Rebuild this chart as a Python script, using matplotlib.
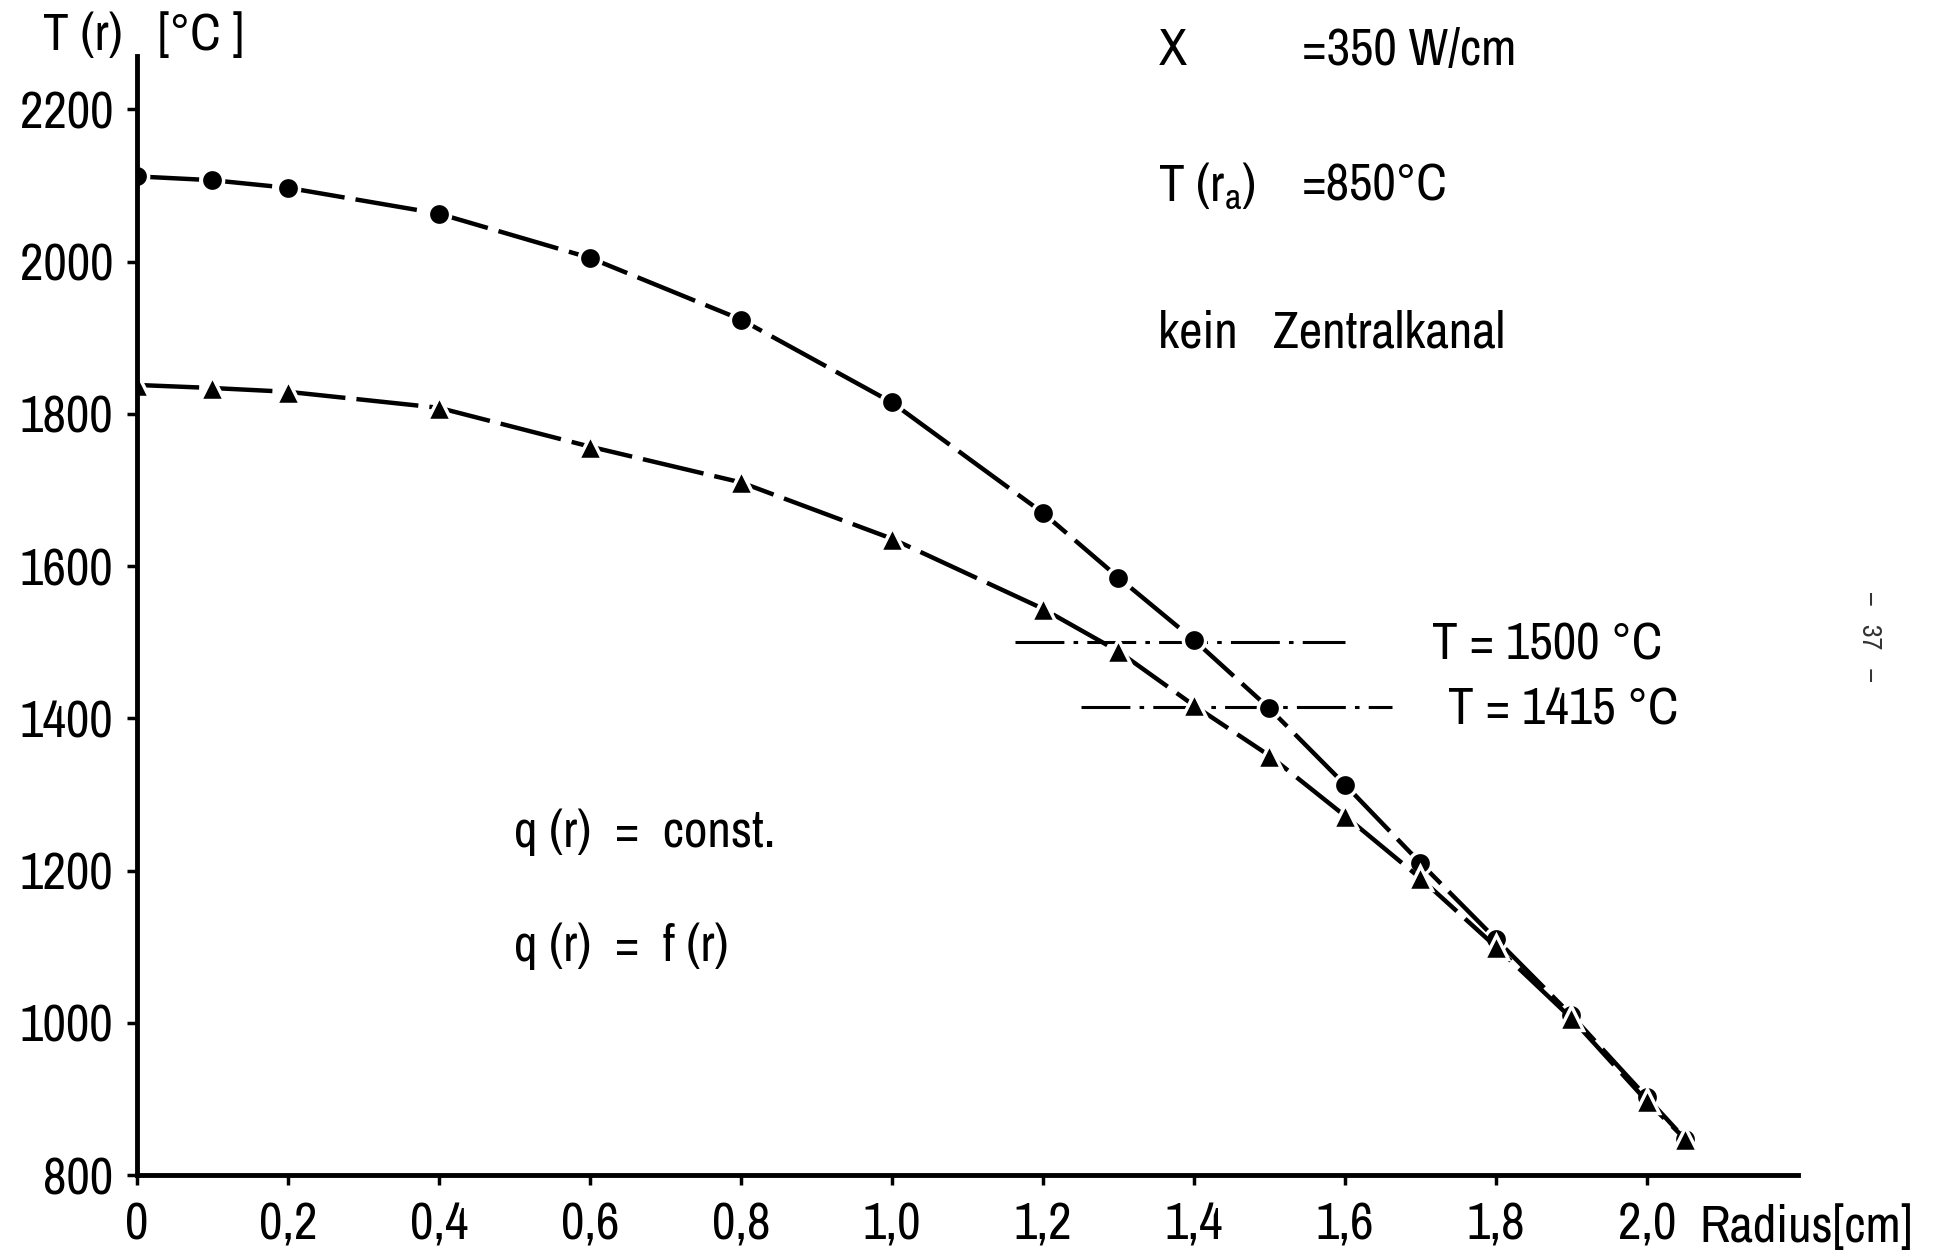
import numpy as np
import matplotlib
matplotlib.use("Agg")
import matplotlib.pyplot as plt
from matplotlib import font_manager

# Schrift: schmale Grotesk, falls vorhanden
fonts = font_manager.fontManager.ttflist
narrow = sorted({f.name for f in fonts if 'Narrow' in f.name or 'Condensed' in f.name})
dv_cond = any(f.name == 'DejaVu Sans' and 'condensed' in str(f.stretch) for f in fonts)
fs = 37
if narrow:
    plt.rcParams['font.family'] = [narrow[0], 'DejaVu Sans']
elif dv_cond:
    plt.rcParams['font.family'] = ['DejaVu Sans']
    plt.rcParams['font.stretch'] = 'condensed'
    fs = 33
else:
    plt.rcParams['font.family'] = ['DejaVu Sans']
    fs = 28

# Radius [cm]
r = [0, 0.1, 0.2, 0.4, 0.6, 0.8, 1.0, 1.2, 1.3, 1.4, 1.5, 1.6, 1.7, 1.8, 1.9, 2.0, 2.05]
# T(r) fuer q(r) = const.
T_const = [2112, 2107, 2097, 2063, 2005, 1924, 1815, 1670, 1585, 1503, 1413, 1313, 1210, 1110, 1010, 902, 848]
# T(r) fuer q(r) = f(r)
T_f = [1838, 1834, 1829, 1808, 1757, 1710, 1636, 1544, 1488, 1417, 1351, 1272, 1190, 1100, 1006, 897, 848]

# Grenztemperaturen (Hilfslinien)
T_lim = [1500, 1415]
r_lim_start = [1.163, 1.251]
r_lim_end = [1.60, 1.663]

xticks = [0, 0.2, 0.4, 0.6, 0.8, 1.0, 1.2, 1.4, 1.6, 1.8, 2.0]
xticklabels = ['0', '0,2', '0,4', '0,6', '0,8', '1,0', '1,2', '1,4', '1,6', '1,8', '2,0']
yticks = [800, 1000, 1200, 1400, 1600, 1800, 2000, 2200]

fig = plt.figure(figsize=(19.54, 12.53), dpi=100)
ax = fig.add_axes([0.0701, 0.0622, 0.850, 0.893])

ax.plot(r, T_const, color='black', lw=3.2, dashes=[14, 2.5],
        marker='o', ms=16, mfc='black', mec='white', mew=2.5)
ax.plot(r, T_f, color='black', lw=3.2, dashes=[14, 2.5],
        marker='^', ms=17, mfc='black', mec='white', mew=2.5)

for T, a, b in zip(T_lim, r_lim_start, r_lim_end):
    ax.plot([a, b], [T, T], color='black', lw=2.2, dashes=[16, 3, 1.5, 3], zorder=1)

ax.set_xlim(0, 2.2)
ax.set_ylim(800, 2270)
ax.set_xticks(xticks)
ax.set_xticklabels(xticklabels)
ax.set_yticks(yticks)

for s in ['top', 'right']:
    ax.spines[s].set_visible(False)
for s in ['left', 'bottom']:
    ax.spines[s].set_linewidth(3.5)
ax.tick_params(axis='both', direction='out', length=7, width=2.5, labelsize=fs)
ax.tick_params(axis='y', pad=10)
ax.tick_params(axis='x', pad=12)

# Achsenbeschriftung
fig.text(0.022, 0.972, 'T (r)   [°C ]', fontsize=fs, va='center', ha='left')
ax.text(2.07, -0.047, 'Radius[cm]', transform=ax.get_xaxis_transform(),
        fontsize=fs, va='center', ha='left')

# Parameter
ax.text(1.353, 2277, 'X', fontsize=fs, va='center')
ax.text(1.543, 2277, '=350 W/cm', fontsize=fs, va='center')
ax.text(1.353, 2100, r'T (r$_\mathregular{a}$)', fontsize=fs, va='center')
ax.text(1.543, 2100, '=850°C', fontsize=fs, va='center')
ax.text(1.353, 1906, 'kein   Zentralkanal', fontsize=fs, va='center')

ax.text(0.50, 1251, 'q (r)  =  const.', fontsize=fs, va='center')
ax.text(0.50, 1100, 'q (r)  =  f (r)', fontsize=fs, va='center')

ax.text(1.716, 1497, 'T = 1500 °C', fontsize=fs, va='center')
ax.text(1.736, 1411, 'T = 1415 °C', fontsize=fs, va='center')

# Seitenzahl
fig.text(0.957, 0.492, '–   37   –', fontsize=20, rotation=-90,
         va='center', ha='center', color='#333333')

fig.savefig('out.png', dpi=100)
